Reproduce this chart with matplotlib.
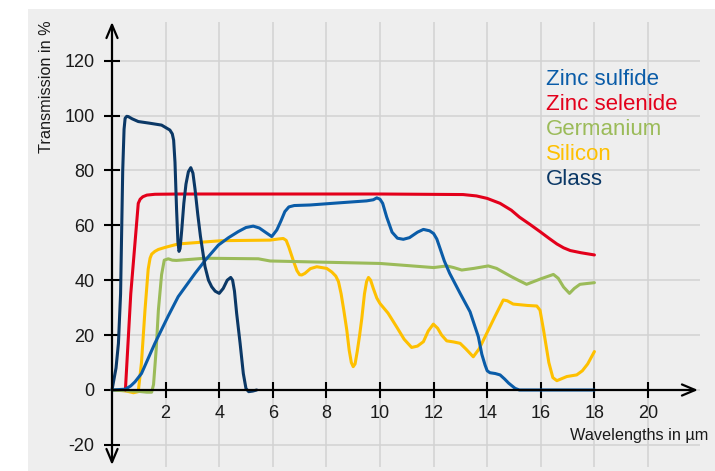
import matplotlib.pyplot as plt
import matplotlib.patches as mpatches

# ── Data ───────────────────────────────────────────────────────────────────
zns_x = [0, 0.5, 0.7, 0.86, 1.1, 1.6, 2.1, 2.47, 3.1, 3.5, 3.97, 4.35, 4.71, 5.0, 5.27,
         5.5, 5.75, 5.96, 6.15, 6.3, 6.45, 6.6, 6.8, 7.39, 8.5, 9.5, 9.75, 9.88, 10.0,
         10.1, 10.25, 10.45, 10.65, 10.87, 11.1, 11.4, 11.62, 11.85, 12.0, 12.12, 12.24,
         12.4, 12.6, 12.99, 13.36, 13.67, 13.8, 13.92, 14.0, 14.1, 14.3, 14.48, 14.65,
         14.8, 15.04, 15.2, 18]
zns_y = [0, 0.3, 1.5, 3, 6, 17, 27, 34, 42.5, 47.5, 52.8, 55.5, 57.7, 59.2, 59.7,
         59.0, 57.3, 55.9, 58.3, 61.5, 65, 66.7, 67.2, 67.4, 68.2, 68.9, 69.3, 70, 69.5,
         68, 63, 57.5, 55.3, 54.9, 55.5, 57.5, 58.5, 58, 57, 55, 51.6,
         47, 42.5, 35.2, 28.5, 19.4, 13, 9.1, 7, 6.3, 6, 5.5, 4,
         2.5, 0.6, 0, 0]

znse_x = [0.5, 0.7, 0.98, 1.05, 1.15, 1.3, 1.6, 2.5, 6, 10, 13.1, 13.6, 14.0, 14.48,
          14.9, 15.2, 15.6, 15.97, 16.3, 16.6, 16.85, 17.1, 17.5, 18]
znse_y = [0, 35, 68, 69.5, 70.4, 71.0, 71.3, 71.4, 71.4, 71.4, 71.2, 70.7, 69.8, 68,
          65.5, 63, 60.3, 57.7, 55.3, 53.2, 51.8, 50.8, 50.0, 49.2]

ge_x = [0, 0.6, 1.0, 1.3, 1.48, 1.55, 1.65, 1.73, 1.85, 1.95, 2.1, 2.25, 2.4, 3.47,
        5.46, 5.9, 10, 12, 12.49, 12.75, 13.05, 13.5, 14.04, 14.35, 14.9, 15.2, 15.47,
        16.0, 16.47, 16.65, 16.85, 17.07, 17.25, 17.46, 18]
ge_y = [0, -0.3, -0.5, -0.8, -0.8, 2, 15, 29, 42, 47.3, 47.8, 47.3, 47.2, 48,
        47.8, 47, 46.1, 44.6, 45.2, 44.6, 43.7, 44.3, 45.2, 44.3, 41.3, 39.8, 38.5,
        40.5, 42.1, 40.7, 37.5, 35.2, 37.0, 38.5, 39.1]

si_x = [0, 0.5, 0.8, 0.98, 1.1, 1.23, 1.35, 1.42, 1.48, 1.6, 1.73, 2.0, 2.47, 4.09,
        5.9, 6.2, 6.39, 6.5, 6.6, 6.77, 6.9, 7.0, 7.08, 7.2, 7.4, 7.64, 8.01, 8.2,
        8.35, 8.45, 8.55, 8.65, 8.76, 8.85, 8.93, 9.0, 9.07, 9.15, 9.24, 9.32, 9.42,
        9.5, 9.57, 9.65, 9.75, 9.88, 10.0, 10.3, 10.62, 10.9, 11.18, 11.4, 11.62, 11.8,
        11.99, 12.15, 12.3, 12.49, 12.75, 12.99, 13.2, 13.48, 13.7, 13.92, 14.3, 14.6,
        14.75, 14.97, 15.5, 15.85, 15.97, 16.1, 16.3, 16.45, 16.6, 16.97, 17.34, 17.55,
        17.75, 18]
si_y = [0, -0.3, -1.0, -0.6, 10, 29, 44, 48, 49.5, 50.5, 51.2, 52, 53.2, 54.4,
        54.6, 55.0, 55.2, 54.5, 52, 47, 43.5, 42, 41.9, 42.5, 44.2, 44.9, 44.3, 43,
        41.5, 39.5, 35, 29, 21.9, 14.5, 10, 8.5, 9.5, 14, 20, 26, 35,
        39.5, 41, 40, 37, 33.5, 31.5, 28, 23, 18.5, 15.5, 16, 17.6, 21.5,
        24, 22.5, 20, 17.9, 17.5, 17, 15, 12.1, 15, 19.4, 27, 32.8,
        32.5, 31.3, 30.8, 30.6, 29.1, 22, 10, 4.5, 3.4, 4.9, 5.5, 7,
        9.5, 14]

glass_x = [0, 0.15, 0.24, 0.32, 0.4, 0.45, 0.49, 0.55, 0.61, 0.75, 0.98, 1.4, 1.85,
           2.16, 2.25, 2.3, 2.35, 2.41, 2.46, 2.5, 2.54, 2.6, 2.68, 2.76, 2.85, 2.94,
           3.02, 3.1, 3.2, 3.3, 3.47, 3.6, 3.72, 3.85, 4.0, 4.15, 4.3, 4.43, 4.5, 4.57,
           4.65, 4.78, 4.9, 5.0, 5.1, 5.25, 5.4]
glass_y = [0, 8, 17, 35, 80, 95, 99, 99.7, 99.6, 98.8, 97.8, 97.2, 96.5,
           94.7, 93.3, 91, 83, 65.6, 54, 50.5, 51.5, 58, 68, 75, 79.5, 81,
           79, 73, 64, 56, 45, 40, 37.6, 36, 35.2, 37, 40, 41, 40, 36,
           28, 17, 6, 0.5, -0.6, -0.4, 0]

series = [
    ('Silicon',       si_x,    si_y,    '#fec000'),
    ('Germanium',     ge_x,    ge_y,    '#9bbb59'),
    ('Zinc selenide', znse_x,  znse_y,  '#e3001b'),
    ('Zinc sulfide',  zns_x,   zns_y,   '#0a5ca8'),
    ('Glass',         glass_x, glass_y, '#0b3866'),
]
legend_order = ['Zinc sulfide', 'Zinc selenide', 'Germanium', 'Silicon', 'Glass']

x_ticks = [2, 4, 6, 8, 10, 12, 14, 16, 18, 20]
y_ticks = [-20, 0, 20, 40, 60, 80, 100, 120]

# ── Style ──────────────────────────────────────────────────────────────────
plt.rcParams['font.family'] = ['Liberation Sans', 'DejaVu Sans']
plt.rcParams['axes.unicode_minus'] = False
BG = '#eeeeee'
GRID = '#d2d2d2'

W, H = 715, 471
fig = plt.figure(figsize=(W / 100, H / 100), dpi=100)
fig.patch.set_facecolor('white')
fig.patches.append(mpatches.Rectangle((28 / W, 0), 1 - 28 / W, 1 - 9 / H,
                                      transform=fig.transFigure, facecolor=BG,
                                      edgecolor='none', zorder=-10))

# axes box = grid extent (pixels 112..700 x, 22..467 y)
ax = fig.add_axes([112 / W, 1 - 467 / H, (700 - 112) / W, (467 - 22) / H])
ax.set_facecolor('none')
ax.set_xlim(0, (700 - 112) / 26.8)
ax.set_ylim((390 - 467) / 2.745, (390 - 22) / 2.745)

for s in ax.spines.values():
    s.set_visible(False)
ax.spines['bottom'].set_position(('data', 0))
ax.spines['left'].set_position(('data', 0))

ax.set_xticks(x_ticks)
ax.set_yticks(y_ticks)
ax.set_xticklabels([str(t) for t in x_ticks])
ax.set_yticklabels([str(t) for t in y_ticks])
ax.tick_params(direction='inout', length=11, width=1.5, color='black',
               labelsize=13, labelcolor='#1a1a1a')
ax.tick_params(axis='x', pad=5)
ax.tick_params(axis='y', pad=7)
ax.grid(True, color=GRID, linewidth=1.1, zorder=0)
ax.set_axisbelow(True)

# ── Curves ─────────────────────────────────────────────────────────────────
for name, xs, ys, col in series:
    ax.plot(xs, ys, color=col, linewidth=2.2, solid_capstyle='round',
            solid_joinstyle='round', zorder=4, clip_on=False)

# ── Axis arrows ────────────────────────────────────────────────────────────
arrow = dict(arrowstyle='->,head_length=0.95,head_width=0.4', lw=1.6,
             color='black', shrinkA=0, shrinkB=0, mutation_scale=10)
ax.annotate('', xy=((698 - 112) / 26.8, 0), xytext=(0, 0), arrowprops=arrow,
            annotation_clip=False, zorder=5)
ax.annotate('', xy=(0, (390 - 22) / 2.745), xytext=(0, (390 - 465) / 2.745),
            arrowprops=dict(arrow, arrowstyle='<->,head_length=0.95,head_width=0.4'),
            annotation_clip=False, zorder=5)

# ── Labels ─────────────────────────────────────────────────────────────────
fig.text(47 / W, 1 - 20 / H, 'Transmission in %', rotation=90, ha='center',
         va='top', fontsize=11.7, color='#1a1a1a')
fig.text(708 / W, 1 - 440 / H, 'Wavelengths in µm', ha='right', va='baseline',
         fontsize=11.7, color='#1a1a1a')

colors = {name: col for name, _, _, col in series}
for i, name in enumerate(legend_order):
    fig.text(546 / W, 1 - (85 + 25 * i) / H, name, ha='left', va='baseline',
             fontsize=16, color=colors[name])

fig.savefig('out.png', dpi=100, facecolor='white')
